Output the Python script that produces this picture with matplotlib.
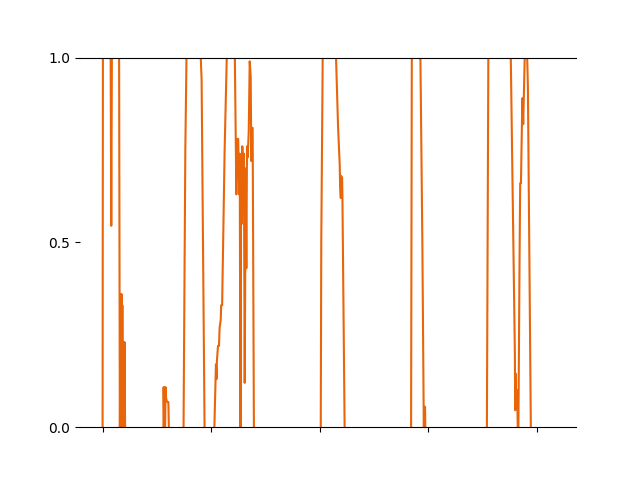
import matplotlib
matplotlib.use("Agg")
import matplotlib.pyplot as plt

# series (x in step units); flat runs sit just
# outside the 0..1 window, so they are hidden by the y limits
x = [0, 0.3, 7.4, 8.0, 8.6, 15.2, 15.9,
     16.6, 17.0, 17.4, 17.8, 18.2, 18.7, 19.2, 19.7, 20.2, 20.8,
     56.0, 56.2, 56.6, 57.0, 57.5, 58.0, 58.5, 59.2, 60.0, 60.6, 61.2,
     74.5, 76.2, 77.4, 90.0, 91.2, 94.0,
     102.7, 104.4, 104.9, 105.3, 106.3, 107.2, 107.8, 108.8, 109.2, 110.1, 112.4, 114.6,
     121.7, 123.2, 123.8, 124.9, 125.8, 126.3, 127.0, 127.6, 128.1, 128.7, 129.5, 130.1,
     130.9, 131.8, 132.4, 133.0, 133.6, 134.6, 135.5, 136.4, 137.0, 137.6, 138.2, 139.4,
     200.9, 201.4, 202.8, 214.7, 216.9, 218.4, 218.7, 219.4, 219.6, 220.6, 220.9, 223.0,
     284.1, 284.8, 292.6, 294.5, 295.9, 296.1, 297.0, 297.3,
     353.9, 355.3, 375.8, 379.7, 380.0, 380.4, 380.9, 381.8, 382.5, 382.9,
     384.0, 384.6, 385.3, 386.2, 386.6, 387.4, 388.0, 389.0, 390.8, 391.7, 394.5, 415.2]
y = [-0.03, 1.03, 1.03, 0.545, 1.03, 1.03, -0.03,
     0.36, -0.03, 0.36, -0.03, 0.33, -0.03, 0.23, -0.03, 0.23, -0.03,
     -0.03, 0.108, 0.03, 0.108, -0.03, 0.108, 0.078, 0.07, 0.068, 0.068, -0.03,
     -0.03, 0.75, 1.03, 1.03, 0.94, -0.03,
     -0.03, 0.17, 0.13, 0.18, 0.22, 0.22, 0.27, 0.29, 0.33, 0.33, 0.75, 1.03,
     1.03, 0.63, 0.78, 0.78, 0.63, 0.74, -0.03, 0.72, 0.55, 0.76, 0.6, 0.74,
     0.12, 0.7, 0.43, 0.76, 0.73, 0.8, 0.99, 0.95, 0.72, 0.81, 0.81, -0.03,
     -0.03, 0.5, 1.03, 1.03, 0.81, 0.71, 0.66, 0.62, 0.68, 0.675, 0.62, -0.03,
     -0.03, 1.03, 1.03, 0.5, -0.03, 0.055, 0.055, -0.03,
     -0.03, 1.03, 1.03, 0.2, 0.046, 0.145, 0.05, 0.1, -0.03, -0.03,
     0.45, 0.66, 0.66, 0.82, 0.89, 0.82, 0.9, 1.03, 1.03, 0.92, -0.03, -0.03]

xticks = [0, 100, 200, 300, 400]
yticks = [0.0, 0.5, 1.0]

fig, ax = plt.subplots(figsize=(6.4, 4.8), dpi=100)
ax.plot(x, y, color="#e8650a", lw=1.5)
ax.set_xlim(-20.8, 436.0)
ax.set_ylim(0, 1)
ax.set_xticks(xticks)
ax.set_yticks(yticks)
ax.tick_params(labelbottom=False)
ax.spines["left"].set_visible(False)
ax.spines["right"].set_visible(False)
fig.savefig("out.png", dpi=100)
